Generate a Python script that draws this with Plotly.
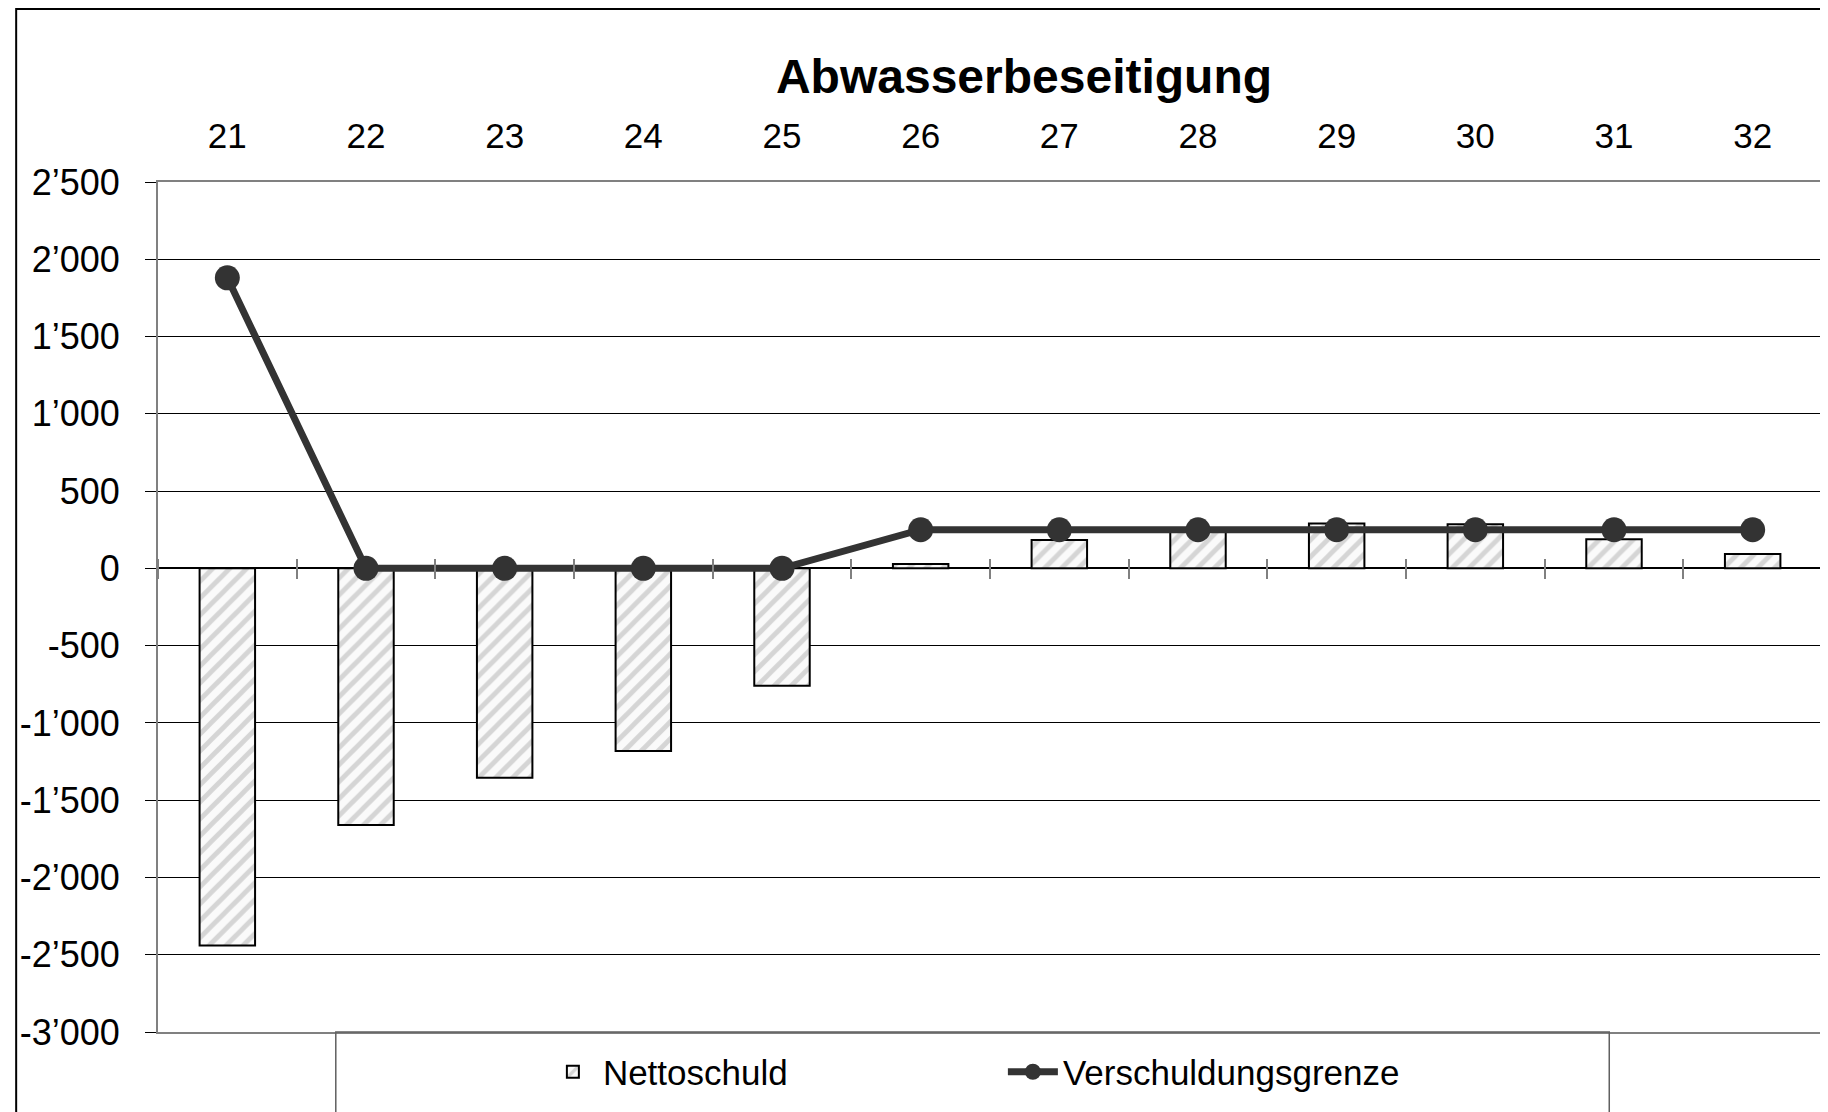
import plotly.graph_objects as go

# ---- data ----
categories = ["21", "22", "23", "24", "25", "26", "27", "28", "29", "30", "31", "32"]
nettoschuld = [-2440, -1660, -1355, -1182, -760, 28, 183, 245, 290, 285, 188, 93]
verschuldungsgrenze = [1880, 0, 0, 0, 0, 250, 250, 250, 250, 250, 250, 250]
y_tickvals = [2500, 2000, 1500, 1000, 500, 0, -500, -1000, -1500, -2000, -2500, -3000]
y_ticktext = ["2’500", "2’000", "1’500", "1’000", "500", "0", "-500", "-1’000",
              "-1’500", "-2’000", "-2’500", "-3’000"]
title_text = "Abwasserbeseitigung"

FONT = "Liberation Sans, Arial, Helvetica, sans-serif"
W, H = 1828, 1112
OFF = 8  # page body margin
ML, MT = 158 - OFF, 182 - OFF
MR = W - (1824 - OFF)
MB = H - (1032 - OFF)
PW, PH = W - ML - MR, H - MT - MB
ymin, ymax = -3000, 2500

def px_x(p):
    return (p - OFF - ML) / PW

def px_y(p):
    return (H - MB - (p - OFF)) / PH

fig = go.Figure()
fig.add_trace(go.Bar(
    x=categories, y=nettoschuld, name="Nettoschuld",
    marker=dict(color="#fafafa", line=dict(color="#000000", width=2),
                pattern=dict(shape="/", fgcolor="#b0b0b0", bgcolor="#fafafa",
                             size=12, solidity=0.4)),
))
fig.add_trace(go.Scatter(
    x=categories, y=verschuldungsgrenze, name="Verschuldungsgrenze",
    xaxis="x2", yaxis="y",
    mode="lines+markers",
    line=dict(color="#333333", width=7),
    marker=dict(color="#333333", size=25),
))

zero_frac = (0 - ymin) / (ymax - ymin)
xrange = [-0.5, len(categories) - 0.5]

fig.update_layout(
    width=W, height=H,
    margin=dict(l=ML, r=MR, t=MT, b=MB),
    paper_bgcolor="white", plot_bgcolor="white",
    font=dict(family=FONT, color="#000000", size=35),
    bargap=0.6,
    showlegend=True,
    title=dict(text="<b>" + title_text + "</b>", x=(1024 - OFF) / W, xanchor="center",
               y=1 - (76 - OFF) / H, yanchor="middle", yref="container",
               font=dict(size=48, family=FONT, color="#000000")),
    xaxis=dict(type="category", side="top", range=xrange,
               categoryorder="array", categoryarray=categories,
               showgrid=False, ticks="", showline=True, linecolor="#808080",
               linewidth=2, mirror=True, tickfont=dict(size=35),
               ticklabelstandoff=18, zeroline=False),
    xaxis2=dict(type="category", overlaying="x", anchor="free",
                categoryorder="array", categoryarray=categories,
                position=zero_frac + 10 / PH, range=xrange,
                tickson="boundaries", showticklabels=False,
                ticks="outside", ticklen=20, tickcolor="#808080", tickwidth=1.5,
                showgrid=False, showline=False, zeroline=False),
    yaxis=dict(range=[ymin, ymax], tickmode="array", tickvals=y_tickvals,
               ticktext=y_ticktext, showgrid=True, gridcolor="#000000",
               gridwidth=1, zeroline=True, zerolinecolor="#000000",
               zerolinewidth=1.5, showline=True, linecolor="#808080",
               linewidth=2, mirror=True, ticks="outside", ticklen=11,
               tickcolor="#000000", tickfont=dict(size=36),
               ticklabelstandoff=18),
    legend=dict(orientation="h", x=0.2313, xanchor="left", y=px_y(1072),
                yanchor="middle", bgcolor="rgba(0,0,0,0)", borderwidth=0,
                itemwidth=50, entrywidth=395, entrywidthmode="pixels",
                font=dict(size=35, family=FONT, color="#000000"),
                traceorder="normal"),
    shapes=[
        # outer chart border
        dict(type="rect", xref="paper", yref="paper",
             x0=px_x(16), x1=px_x(1825), y0=px_y(1140), y1=px_y(9),
             line=dict(color="#000000", width=2), fillcolor="rgba(0,0,0,0)",
             layer="above"),
        # legend box
        dict(type="rect", xref="paper", yref="paper",
             x0=px_x(336), x1=px_x(1611), y0=px_y(1140), y1=px_y(1032),
             line=dict(color="#606060", width=1.5), fillcolor="rgba(0,0,0,0)",
             layer="above"),
    ],
)

fig.write_html("out.html")
